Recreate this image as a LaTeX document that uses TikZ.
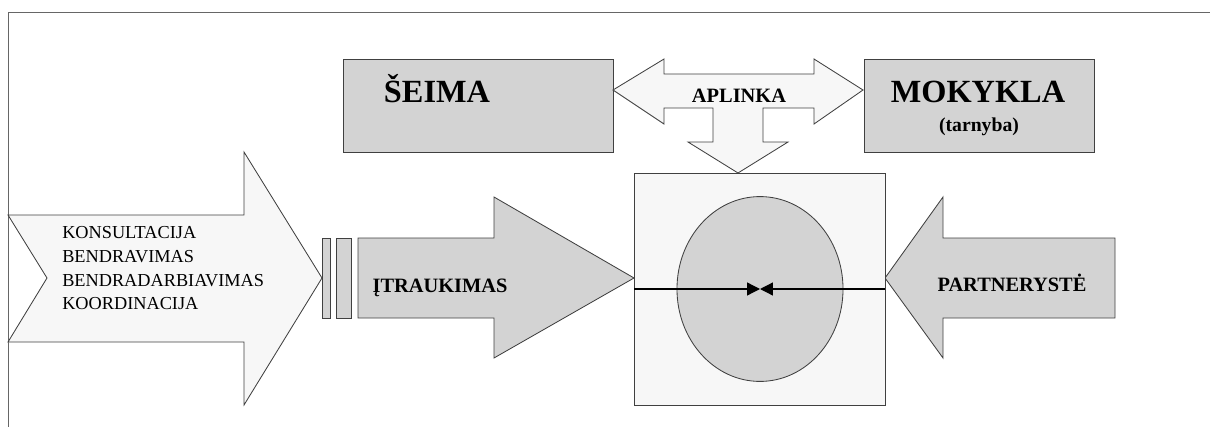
\documentclass[tikz,border=0pt]{standalone}
\usepackage{fontspec}
\setmainfont{Liberation Serif}
\usetikzlibrary{arrows.meta}
\definecolor{lightfill}{HTML}{F7F7F7}
\definecolor{midfill}{HTML}{D3D3D3}

\begin{document}
\begin{tikzpicture}[x=0.025cm,y=-0.025cm,
  outline/.style={draw=black!75,line width=0.6pt},
  lightshape/.style={outline,fill=lightfill},
  greyshape/.style={outline,fill=midfill},
  bigtitle/.style={font=\fontsize{23}{27}\selectfont\bfseries,anchor=base,inner sep=0pt},
  arrowlabel/.style={font=\fontsize{14.5}{17}\selectfont\bfseries,anchor=base,inner sep=0pt},
  listtext/.style={font=\fontsize{13}{16}\selectfont,anchor=base west,inner sep=0pt},
  meettip/.style={-{Triangle[length=0.32cm,width=0.32cm]},line width=0.9pt}]
  \useasboundingbox (0,0) rectangle (1210,427);
  % frame
  \draw[black!60,line width=0.6pt] (8,427) -- (8,12) -- (1210,12);

  % top boxes
  \draw[greyshape] (343,59) rectangle (613,152);
  \draw[greyshape] (864,59) rectangle (1094,152);
  \node[bigtitle] (seima) at (437,102) {ŠEIMA};
  \node[bigtitle] (mokykla) at (978,102) {MOKYKLA};
  \node[arrowlabel,font=\fontsize{14}{17}\selectfont\bfseries] (tarnyba) at (979,131) {(tarnyba)};

  % environment arrow
  \draw[lightshape] (613,90) -- (664,59) -- (664,74) -- (814,74) -- (814,59) -- (863,90)
    -- (814,124) -- (814,108) -- (763,108) -- (763,142) -- (788,142) -- (738,173)
    -- (688,142) -- (713,142) -- (713,108) -- (664,108) -- (664,124) -- cycle;
  \node[arrowlabel] (aplinka) at (739,103) {APLINKA};

  % left arrow
  \draw[lightshape] (8,215) -- (244,215) -- (244,152) -- (322,278) -- (244,405)
    -- (244,342) -- (8,342) -- (47,278) -- cycle;
  \foreach \name/\txt/\yy in {k1/KONSULTACIJA/238, k2/BENDRAVIMAS/262,
      k3/BENDRADARBIAVIMAS/286, k4/KOORDINACIJA/309}
    \node[listtext] (\name) at (62,\yy) {\txt};

  % bars
  \draw[greyshape] (322,238) rectangle (330,318);
  \draw[greyshape] (336,238) rectangle (351,318);

  % involvement arrow
  \draw[greyshape] (358,238) -- (494,238) -- (494,197) -- (634,278) -- (494,358)
    -- (494,318) -- (358,318) -- cycle;
  \node[arrowlabel] (itraukimas) at (440,292) {ĮTRAUKIMAS};

  % partnership arrow
  \draw[greyshape] (1115,238) -- (943,238) -- (943,197) -- (885,278) -- (943,358)
    -- (943,318) -- (1115,318) -- cycle;
  \node[arrowlabel] (partneryste) at (1012,291) {PARTNERYSTĖ};

  % centre
  \draw[lightshape] (634,173) rectangle (885,405);
  \draw[greyshape] (760,289) ellipse [x radius=2.075cm, y radius=2.31cm];
  \coordinate (lin) at (634,289);
  \coordinate (rin) at (885,289);
  \coordinate (meet) at (760,289);
  \draw[meettip] (lin) -- (meet);
  \draw[meettip] (rin) -- (meet);
\end{tikzpicture}
\end{document}
